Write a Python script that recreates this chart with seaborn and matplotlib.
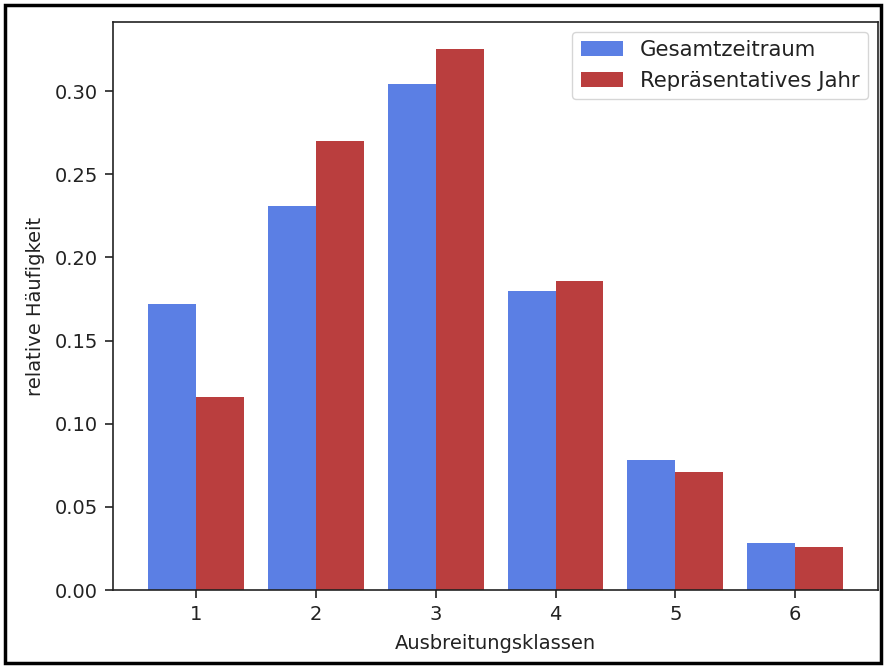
import matplotlib
matplotlib.use("Agg")
import matplotlib.pyplot as plt
import seaborn as sns
import pandas as pd
from matplotlib.patches import Rectangle

classes = ["1", "2", "3", "4", "5", "6"]
gesamt = [0.172, 0.231, 0.304, 0.180, 0.078, 0.028]
repr_jahr = [0.116, 0.270, 0.325, 0.186, 0.071, 0.026]
series_names = ["Gesamtzeitraum", "Repräsentatives Jahr"]

df = pd.DataFrame({
    "Klasse": classes * 2,
    "Wert": gesamt + repr_jahr,
    "Serie": [series_names[0]] * len(classes) + [series_names[1]] * len(classes),
})

plt.rcParams["font.family"] = ["DejaVu Sans"]
fs = 14
fig = plt.figure(figsize=(8.85, 6.66), dpi=100)
ax = fig.add_axes([0.128, 0.114, 0.864, 0.853])

sns.barplot(data=df, x="Klasse", y="Wert", hue="Serie", order=classes,
            hue_order=series_names, palette=["#5B7FE4", "#BA3E3E"],
            saturation=1, width=0.8, ax=ax, errorbar=None)

ax.set_xlim(-0.69, 5.69)
ax.set_ylim(0, 0.3415)
ax.set_yticks([0.0, 0.05, 0.10, 0.15, 0.20, 0.25, 0.30])
ax.set_yticklabels(["0.00", "0.05", "0.10", "0.15", "0.20", "0.25", "0.30"])
ax.tick_params(labelsize=fs, length=5.5, width=1.2, pad=5.5, colors="#222222")
ax.set_xlabel("Ausbreitungsklassen", fontsize=fs, color="#222222", labelpad=7)
ax.set_ylabel("relative Häufigkeit", fontsize=fs, color="#222222", labelpad=7)
for s in ax.spines.values():
    s.set_linewidth(1.2)
    s.set_color("#222222")

leg = ax.legend(loc="upper right", fontsize=15.3, title=None, frameon=True,
                borderaxespad=0.45)
for t in leg.get_texts():
    t.set_color("#222222")

fig.patches.append(Rectangle((0.006, 0.004), 0.989, 0.988, transform=fig.transFigure,
                             fill=False, edgecolor="black", linewidth=2.5))

fig.savefig("out.png", dpi=100)
